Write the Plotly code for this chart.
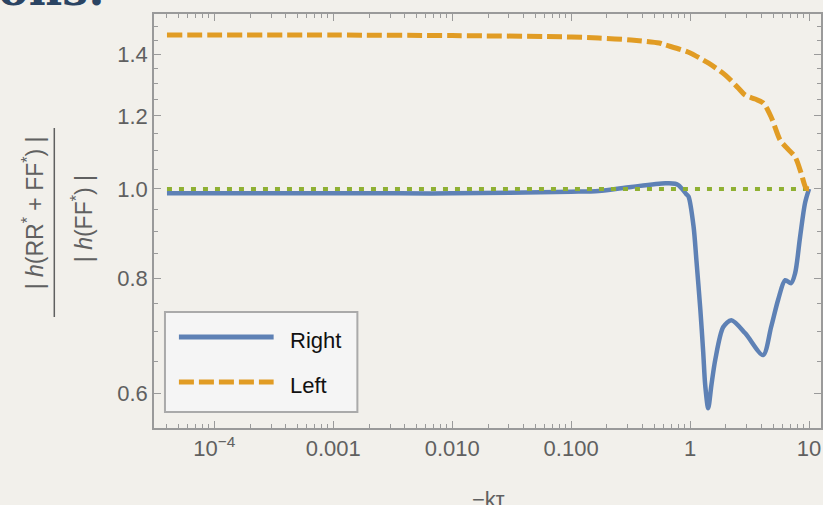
import plotly.graph_objects as go

# ---- data ----
x_right = [4e-5, 1e-4, 1e-3, 0.0036, 1e-2, 0.1, 0.17, 0.32, 0.62, 0.75, 0.80, 0.93, 0.97,
           1.07, 1.13, 1.22, 1.29, 1.34, 1.42, 1.51, 1.63, 1.90, 2.22, 2.91, 4.11, 4.80,
           5.50, 6.30, 7.06, 7.64, 8.41, 9.25, 10.0]
y_right = [0.989, 0.989, 0.989, 0.989, 0.989, 0.993, 0.995, 1.005, 1.014, 1.013, 1.009, 0.987, 0.981,
           0.910, 0.837, 0.739, 0.664, 0.612, 0.578, 0.612, 0.653, 0.708, 0.720, 0.697, 0.660, 0.708,
           0.758, 0.796, 0.790, 0.810, 0.887, 0.965, 1.0]

x_left = [4e-5, 1e-3, 1e-2, 0.1, 0.17, 0.32, 0.55, 0.62, 0.96, 1.42, 1.98, 2.54, 2.91,
          3.52, 4.11, 4.80, 5.71, 6.41, 7.64, 8.57, 9.44, 10.0]
y_left = [1.469, 1.469, 1.467, 1.462, 1.458, 1.451, 1.440, 1.433, 1.408, 1.370, 1.329, 1.287, 1.264,
          1.252, 1.240, 1.197, 1.130, 1.110, 1.083, 1.041, 1.002, 1.0]

x_ref = [4e-5, 10.0]
y_ref = [1.0, 1.0]

series_names = ["Right", "Left"]
x_tickvals = [1e-4, 1e-3, 1e-2, 1e-1, 1, 10]
x_ticktext = ["10<sup>\u22124</sup>", "0.001", "0.010", "0.100", "1", "10"]
y_tickvals = [0.6, 0.8, 1.0, 1.2, 1.4]
y_ticktext = ["0.6", "0.8", "1.0", "1.2", "1.4"]

BLUE = "#5e81b5"
ORANGE = "#e19c24"
GREEN = "#8fb032"
BG = "#f2f0eb"
AX = "#9a9a9a"
TXT = "#606060"
FONT = "Liberation Sans, Arial, sans-serif"

x_minor = [m * 10 ** e for e in range(-5, 2) for m in range(2, 10)]
y_minor = [round(0.55 + 0.05 * i, 2) for i in range(0, 21)]

fig = go.Figure()
fig.add_trace(go.Scatter(x=x_right, y=y_right, mode="lines", name=series_names[0],
                         line=dict(color=BLUE, width=4.5, shape="spline", smoothing=0.8)))
fig.add_trace(go.Scatter(x=x_ref, y=y_ref, mode="lines", showlegend=False,
                         line=dict(color=GREEN, width=4, dash="5px,7px")))
fig.add_trace(go.Scatter(x=x_left, y=y_left, mode="lines", name=series_names[1],
                         line=dict(color=ORANGE, width=5, dash="15px,5px", shape="spline", smoothing=0.8)))

L, R, T, B = 154, 0, 14, 77
W, H = 823, 505
pw, ph = W - L - R, H - T - B


def px(x):
    return (x - L) / pw


def py(y):
    return (H - B - y) / ph


fig.update_layout(
    width=W, height=H,
    margin=dict(l=L, r=R, t=T, b=B, pad=0),
    paper_bgcolor=BG, plot_bgcolor=BG,
    showlegend=False,
    font=dict(family=FONT, size=22, color=TXT),
    xaxis=dict(type="log", range=[-4.507, 1.1006], showgrid=False, zeroline=False,
               showline=True, linecolor=AX, linewidth=1.5, mirror="ticks",
               ticks="inside", ticklen=7, tickwidth=1, tickcolor=AX,
               tickmode="array", tickvals=x_tickvals, ticktext=x_ticktext,
               tickfont=dict(size=22, color=TXT, family=FONT),
               minor=dict(tickmode="array", tickvals=x_minor, ticks="inside", ticklen=4,
                          tickwidth=1, tickcolor=AX, showgrid=False)),
    yaxis=dict(type="log", range=[-0.2596, 0.1899], showgrid=False, zeroline=False,
               showline=True, linecolor=AX, linewidth=1.5, mirror="ticks",
               ticks="inside", ticklen=7, tickwidth=1, tickcolor=AX,
               tickmode="array", tickvals=y_tickvals, ticktext=y_ticktext,
               tickfont=dict(size=22, color=TXT, family=FONT),
               minor=dict(tickmode="array", tickvals=y_minor, ticks="inside", ticklen=4,
                          tickwidth=1, tickcolor=AX, showgrid=False)),
)

shapes = []
annotations = []

# y-axis title as a fraction
annotations.append(dict(xref="paper", yref="paper", x=px(33), y=py(213),
                        text="| <i>h</i>(RR<sup>*</sup> + FF<sup>*</sup>) |", textangle=-90,
                        showarrow=False, xanchor="center", yanchor="middle",
                        font=dict(size=23, color=TXT, family=FONT)))
annotations.append(dict(xref="paper", yref="paper", x=px(82), y=py(219),
                        text="| <i>h</i>(FF<sup>*</sup>) |", textangle=-90,
                        showarrow=False, xanchor="center", yanchor="middle",
                        font=dict(size=23, color=TXT, family=FONT)))
shapes.append(dict(type="line", xref="paper", yref="paper", x0=px(54), x1=px(54),
                   y0=py(128), y1=py(317), line=dict(color=TXT, width=1.5)))

# x-axis title
annotations.append(dict(xref="paper", yref="paper", x=px(490), y=py(485),
                        text="\u2212k\u03c4", showarrow=False, xanchor="center", yanchor="top",
                        font=dict(size=22, color=TXT, family=FONT)))

# slide title remnant
annotations.append(dict(xref="paper", yref="paper", x=px(-4), y=py(-11),
                        text="<b>ons:</b>", showarrow=False, xanchor="left", yanchor="middle",
                        font=dict(size=46, color="#2b4463", family="DejaVu Serif")))

# manual legend
shapes.append(dict(type="rect", xref="paper", yref="paper", x0=px(165), x1=px(358),
                   y0=py(412), y1=py(312), fillcolor="#f5f5f5",
                   line=dict(color="#aaaaaa", width=2), layer="above"))
shapes.append(dict(type="line", xref="paper", yref="paper", x0=px(179), x1=px(274),
                   y0=py(337), y1=py(337), line=dict(color=BLUE, width=5), layer="above"))
shapes.append(dict(type="line", xref="paper", yref="paper", x0=px(179), x1=px(274),
                   y0=py(382), y1=py(382), line=dict(color=ORANGE, width=5, dash="15px,5px"),
                   layer="above"))
annotations.append(dict(xref="paper", yref="paper", x=px(288), y=py(340),
                        text=series_names[0], showarrow=False, xanchor="left", yanchor="middle",
                        font=dict(size=22, color="#111111", family=FONT)))
annotations.append(dict(xref="paper", yref="paper", x=px(288), y=py(385),
                        text=series_names[1], showarrow=False, xanchor="left", yanchor="middle",
                        font=dict(size=22, color="#111111", family=FONT)))

fig.update_layout(shapes=shapes, annotations=annotations)
fig.write_html("out.html")
